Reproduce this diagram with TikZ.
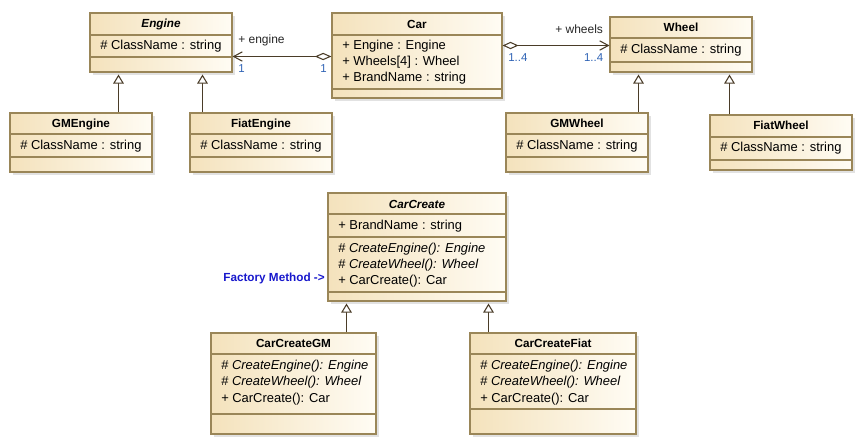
\documentclass[tikz,border=0pt]{standalone}
\usepackage{fontspec}
\setmainfont{Liberation Sans}
\usetikzlibrary{arrows.meta,fit}
\definecolor{bordc}{HTML}{9A8658}
\definecolor{linec}{HTML}{4A3C28}
\definecolor{shadowc}{HTML}{E2E2E2}
\definecolor{fillL}{HTML}{F4E2BC}
\definecolor{fillR}{HTML}{FFFCF4}
\definecolor{multc}{HTML}{2F63B5}
\definecolor{fmc}{HTML}{1818CC}
\tikzset{
  cbox/.style={draw=bordc, line width=0.8pt, inner sep=0pt, left color=fillL, right color=fillR},
  sepline/.style={draw=bordc, line width=0.8pt},
  hdr/.style={font=\fontsize{8.8}{10}\selectfont\bfseries, inner sep=0pt},
  txt/.style={font=\fontsize{9.7}{11}\selectfont, inner sep=0pt, anchor=west},
  lbl/.style={font=\fontsize{9}{10}\selectfont, inner sep=0pt, text=black!85},
  mult/.style={font=\fontsize{8.6}{10}\selectfont, inner sep=0pt, text=multc},
  gen/.style={draw=linec, line width=0.8pt, -{Triangle[length=6.8pt,width=8pt,fill=white]}, shorten >=1.5pt},
  assoc/.style={draw=linec, line width=0.8pt},
}
\newcommand\umlbox[5]{%
  \fill[shadowc] (#2+2.5,#3+2.5) rectangle (#4+2.5,#5+2.5);
  \node[cbox, fit={(#2,#3) (#4,#5)}] (#1) {};
}
\newcommand\sepln[3]{\draw[sepline] (#1,#3) -- (#2,#3);}
\begin{document}
\begin{tikzpicture}[x=0.75pt, y=-0.75pt]
\useasboundingbox (0,0) rectangle (863,446);

% ---------- boxes ----------
\umlbox{engine}{90}{13}{232}{72}
\sepln{90}{232}{35}\sepln{90}{232}{57}
\node[hdr] (engineh) at (161,24) {\textit{Engine}};
\node[txt] (enginea) at (100,46.5) {\# ClassName : string};

\umlbox{car}{332}{13}{502}{98}
\sepln{332}{502}{35}\sepln{332}{502}{89}
\node[hdr] (carh) at (417,24) {Car};
\node[txt] (cara1) at (342,46.5) {+ Engine : Engine};
\node[txt] (cara2) at (342,62.2) {+ Wheels[4] : Wheel};
\node[txt] (cara3) at (342,77.8) {+ BrandName : string};

\umlbox{wheel}{610}{17}{752}{72}
\sepln{610}{752}{38}\sepln{610}{752}{62}
\node[hdr] (wheelh) at (681,27.5) {Wheel};
\node[txt] (wheela) at (620,50) {\# ClassName : string};

\umlbox{gmengine}{10}{113}{152}{172}
\sepln{10}{152}{134}\sepln{10}{152}{157}
\node[hdr] (gmengineh) at (81,124) {GMEngine};
\node[txt] (gmenginea) at (20,146) {\# ClassName : string};

\umlbox{fiatengine}{190}{113}{332}{172}
\sepln{190}{332}{134}\sepln{190}{332}{157}
\node[hdr] (fiatengineh) at (261,124) {FiatEngine};
\node[txt] (fiatenginea) at (200,146) {\# ClassName : string};

\umlbox{gmwheel}{506}{113}{648}{172}
\sepln{506}{648}{134}\sepln{506}{648}{157}
\node[hdr] (gmwheelh) at (577,123.5) {GMWheel};
\node[txt] (gmwheela) at (516,146.5) {\# ClassName : string};

\umlbox{fiatwheel}{710}{115}{852}{170}
\sepln{710}{852}{137}\sepln{710}{852}{160}
\node[hdr] (fiatwheelh) at (781,125.5) {FiatWheel};
\node[txt] (fiatwheela) at (720,148.3) {\# ClassName : string};

\umlbox{carcreate}{328}{193}{506}{301}
\sepln{328}{506}{214}\sepln{328}{506}{237}\sepln{328}{506}{292}
\node[hdr] (carcreateh) at (417,204) {\textit{CarCreate}};
\node[txt] (carcreatea) at (338,226.5) {+ BrandName : string};
\node[txt] (carcreatem1) at (338,249) {\# \textit{CreateEngine(): Engine}};
\node[txt] (carcreatem2) at (338,265.2) {\# \textit{CreateWheel(): Wheel}};
\node[txt] (carcreatem3) at (338,281.5) {+ CarCreate(): Car};

\umlbox{carcreategm}{211}{333}{376}{434}
\sepln{211}{376}{354}\sepln{211}{376}{414}
\node[hdr] (carcreategmh) at (293.5,343.5) {CarCreateGM};
\node[txt] (gmm1) at (221,366) {\# \textit{CreateEngine(): Engine}};
\node[txt] (gmm2) at (221,382.4) {\# \textit{CreateWheel(): Wheel}};
\node[txt] (gmm3) at (221,398.7) {+ CarCreate(): Car};

\umlbox{carcreatefiat}{470}{333}{636}{434}
\sepln{470}{636}{354}\sepln{470}{636}{409}
\node[hdr] (carcreatefiath) at (553,343.5) {CarCreateFiat};
\node[txt] (fiatm1) at (480,366) {\# \textit{CreateEngine(): Engine}};
\node[txt] (fiatm2) at (480,382.4) {\# \textit{CreateWheel(): Wheel}};
\node[txt] (fiatm3) at (480,398.7) {+ CarCreate(): Car};

% ---------- factory method note ----------
\node[font=\fontsize{8.8}{10}\selectfont\bfseries, text=fmc, inner sep=0pt, anchor=east] (fm) at (325,278) {Factory Method ->};

% ---------- associations ----------
\coordinate (ae) at (0,56.5);
\draw[assoc, {Diamond[length=12.5pt,width=5.5pt,fill=white]}-{Straight Barb[length=6.5pt,width=7pt]}]
  (car.west |- ae) -- (engine.east |- ae);
\node[lbl, anchor=west] (lengine) at (238,40) {+ engine};
\node[mult] (m1) at (241.5,68.5) {1};
\node[mult] (m2) at (323.5,68.5) {1};

\coordinate (aw) at (0,45.5);
\draw[assoc, {Diamond[length=12pt,width=5.5pt,fill=white]}-{Straight Barb[length=6.5pt,width=7pt]}]
  (car.east |- aw) -- (wheel.west |- aw);
\node[lbl, anchor=west] (lwheels) at (555,29.5) {+ wheels};
\node[mult, anchor=west] (m3) at (508,58) {1..4};
\node[mult, anchor=east] (m4) at (603.5,58) {1..4};

% ---------- generalizations ----------
\coordinate (g1) at (118.5,0);
\coordinate (g2) at (202.5,0);
\coordinate (g3) at (638.5,0);
\coordinate (g4) at (729.5,0);
\coordinate (g5) at (346.5,0);
\coordinate (g6) at (488.5,0);
\draw[gen] (gmengine.north -| g1) -- (engine.south -| g1);
\draw[gen] (fiatengine.north -| g2) -- (engine.south -| g2);
\draw[gen] (gmwheel.north -| g3) -- (wheel.south -| g3);
\draw[gen] (fiatwheel.north -| g4) -- (wheel.south -| g4);
\draw[gen] (carcreategm.north -| g5) -- (carcreate.south -| g5);
\draw[gen] (carcreatefiat.north -| g6) -- (carcreate.south -| g6);
\end{tikzpicture}
\end{document}
